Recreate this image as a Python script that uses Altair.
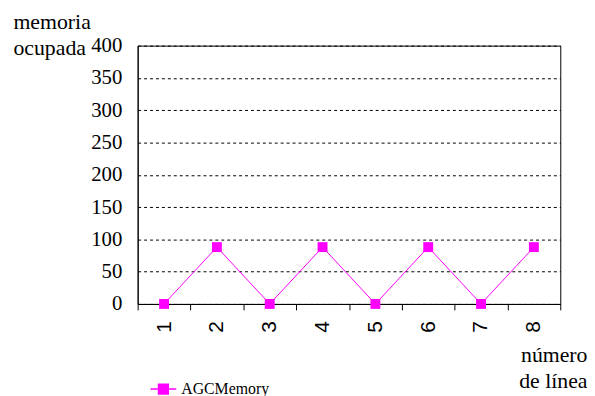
import altair as alt
import pandas as pd

lines = ["1", "2", "3", "4", "5", "6", "7", "8"]
agc_memory = [0, 88, 0, 88, 0, 88, 0, 88]
series = ["AGCMemory"] * len(lines)
y_ticks = [0, 50, 100, 150, 200, 250, 300, 350, 400]

df = pd.DataFrame({"line": lines, "mem": agc_memory, "series": series})

FONT = "Liberation Serif, Times New Roman, serif"
SANS = "Liberation Sans, Arial, sans-serif"
MAG = "#FF00FF"

x = alt.X(
    "line:N",
    sort=lines,
    scale=alt.Scale(paddingInner=0, paddingOuter=0),
    axis=alt.Axis(
        title=["número", "de línea"],
        titleX=454,
        titleY=58,
        titleAlign="right",
        titleAnchor="end",
        titleAngle=0,
        titleBaseline="alphabetic",
        titleLineHeight=26,
        titleFont=FONT,
        titleFontSize=22,
        titleFontWeight="normal",
        titleColor="black",
        labelAngle=270,
        labelFont=SANS,
        labelFontSize=21,
        labelColor="black",
        labelPadding=11,
        tickBand="extent",
        tickSize=6,
        tickColor="black",
        domainColor="black",
        grid=False,
    ),
)

y = alt.Y(
    "mem:Q",
    scale=alt.Scale(domain=[0, 400], nice=False),
    axis=alt.Axis(
        values=y_ticks,
        title=["memoria", "ocupada"],
        titleX=-126,
        titleY=-17,
        titleAlign="left",
        titleAnchor="start",
        titleAngle=0,
        titleBaseline="alphabetic",
        titleLineHeight=26,
        titleFont=FONT,
        titleFontSize=22,
        titleFontWeight="normal",
        titleColor="black",
        labelFont=FONT,
        labelFontSize=21,
        labelColor="black",
        labelPadding=16,
        tickSize=0,
        domainColor="black",
        grid=True,
        gridColor="black",
        gridDash=[3, 3],
        gridWidth=1,
    ),
)

color = alt.Color(
    "series:N",
    scale=alt.Scale(domain=["AGCMemory"], range=[MAG]),
    legend=alt.Legend(
        title=None,
        orient="none",
        legendX=12,
        legendY=333,
        padding=0,
        symbolType="M-1,0L1,0M-0.38,-0.38L0.38,-0.38L0.38,0.38L-0.38,0.38Z",
        symbolSize=676,
        symbolFillColor=MAG,
        symbolStrokeColor=MAG,
        symbolStrokeWidth=1.5,
        symbolOpacity=1,
        labelFont=FONT,
        labelFontSize=16,
        labelColor="black",
        labelOffset=4,
    ),
)

base = alt.Chart(df).encode(x=x, y=y, color=color)
line = base.mark_line(strokeWidth=1)
pts = base.mark_square(size=100, opacity=1, filled=True)

chart = (
    (line + pts)
    .properties(
        width=427,
        height=261,
        autosize=alt.AutoSizeParams(type="none"),
        padding={"left": 131, "top": 36, "right": 27, "bottom": 91},
        background="white",
    )
    .configure_view(stroke="black", strokeWidth=1)
)

chart.save("out.html", embed_options={"renderer": "svg", "actions": False})
